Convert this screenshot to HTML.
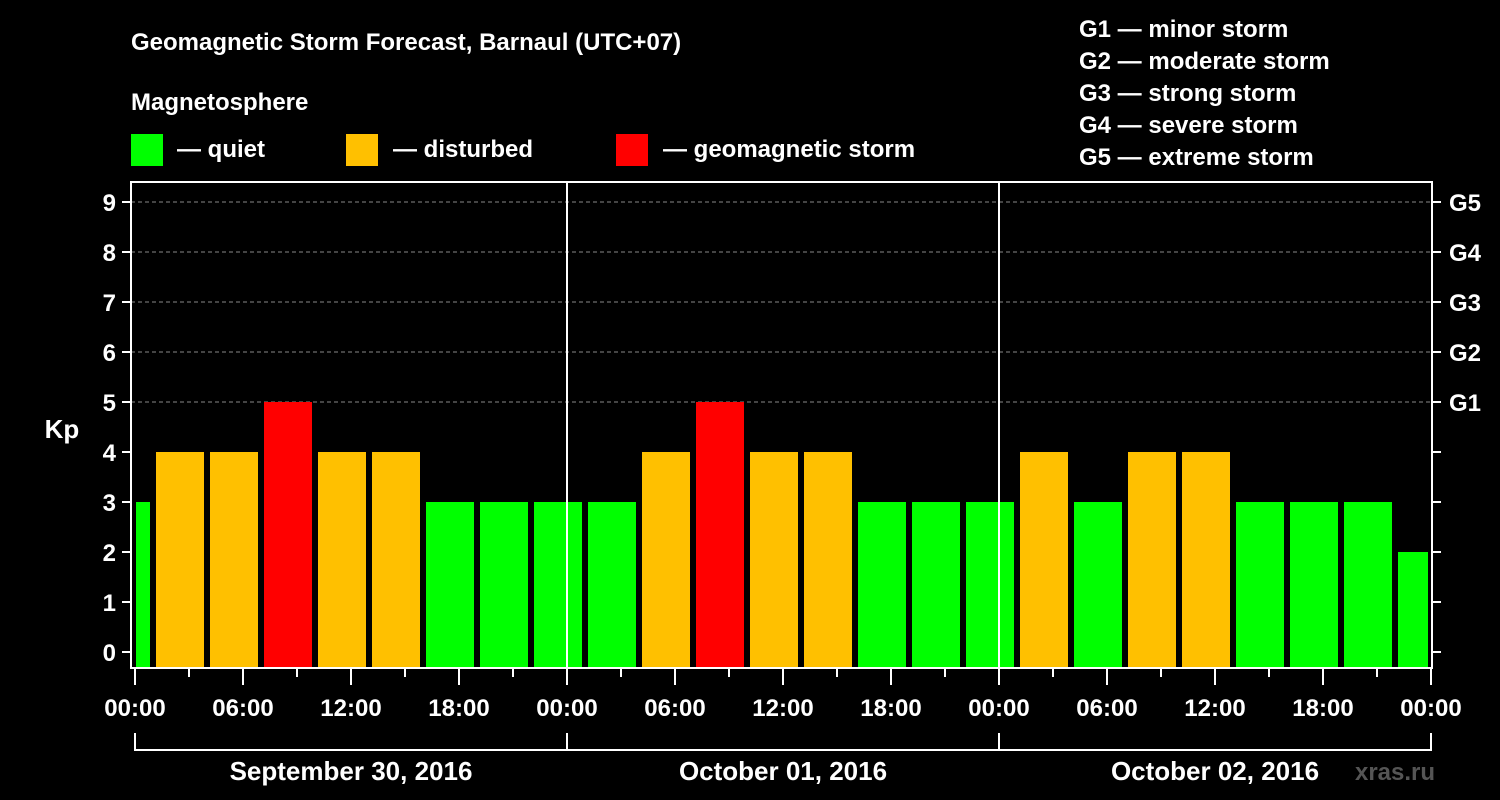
<!DOCTYPE html>
<html><head><meta charset="utf-8"><style>
body{margin:0;background:#000;}
svg{display:block;font-family:"Liberation Sans",Arial,sans-serif;font-weight:bold;}
</style></head><body>
<svg id="c" width="1500" height="800" xmlns="http://www.w3.org/2000/svg">
<rect width="1500" height="800" fill="#000"/>
<text x="131" y="50" fill="#fff" font-size="24">Geomagnetic Storm Forecast, Barnaul (UTC+07)</text>
<text x="131" y="110" fill="#fff" font-size="24">Magnetosphere</text>
<rect x="131" y="134" width="32" height="32" fill="#00ff00"/>
<text x="177" y="157" fill="#fff" font-size="24">— quiet</text>
<rect x="346" y="134" width="32" height="32" fill="#ffc000"/>
<text x="393" y="157" fill="#fff" font-size="24">— disturbed</text>
<rect x="616" y="134" width="32" height="32" fill="#ff0000"/>
<text x="663" y="157" fill="#fff" font-size="24">— geomagnetic storm</text>
<g fill="#fff" font-size="24">
<text x="1079" y="37">G1 — minor storm</text>
<text x="1079" y="69">G2 — moderate storm</text>
<text x="1079" y="101">G3 — strong storm</text>
<text x="1079" y="133">G4 — severe storm</text>
<text x="1079" y="165">G5 — extreme storm</text>
</g>
<text x="62" y="438" fill="#fff" font-size="26" text-anchor="middle">Kp</text>
<g id="grid"></g><g id="bars"></g><g id="axes"></g>
<text x="1395" y="780" fill="#555" font-size="24" text-anchor="middle">xras.ru</text>
</svg>
<script>
const kpValues=[3,4,4,5,4,4,3,3,3,3,4,5,4,4,3,3,3,4,3,4,4,3,3,3,2];
const yTicks=[0,1,2,3,4,5,6,7,8,9];
const gLabels=["G1","G2","G3","G4","G5"];
const xTickLabels=["00:00","06:00","12:00","18:00","00:00","06:00","12:00","18:00","00:00","06:00","12:00","18:00","00:00"];
const dayLabels=["September 30, 2016","October 01, 2016","October 02, 2016"];
const NS="http://www.w3.org/2000/svg";
const L=131,R=1432,T=182,B=668,X0=135,HP=18;
const y=v=>652-v*50, x=h=>X0+h*HP;
function mk(tag,attrs,parent,text){const e=document.createElementNS(NS,tag);for(const k in attrs)e.setAttribute(k,attrs[k]);if(text!==undefined)e.textContent=text;document.getElementById(parent).appendChild(e);return e;}
function col(v){return v>=5?"#ff0000":v>=4?"#ffc000":"#00ff00";}
// grid
for(let i=0;i<gLabels.length;i++){const v=5+i;
 const g=mk("line",{x1:L,x2:R,y1:y(v),y2:y(v),stroke:"#888","stroke-dasharray":"4,3","stroke-width":1},"grid");
 
 
 const t=mk("text",{x:1449,y:y(v)+9,fill:"#fff","font-size":24},"axes",gLabels[i]);
 
 }
// bars
kpValues.forEach((v,i)=>{let s=x(-2+3*i)+3,e=x(1+3*i)-3;s=Math.max(s,136);e=Math.min(e,1428);
 const r=mk("rect",{x:s,y:y(v),width:e-s,height:B-y(v),fill:col(v)},"bars");
 
 });
// axes box
const box=mk("rect",{x:L,y:T,width:R-L,height:B-T,fill:"none",stroke:"#fff","stroke-width":2},"axes");


for(let d=1;d<3;d++){const l=mk("line",{x1:x(24*d),x2:x(24*d),y1:T,y2:B,stroke:"#fff","stroke-width":2},"axes");
 
 }
yTicks.forEach(v=>{
 mk("line",{x1:122,x2:L,y1:y(v),y2:y(v),stroke:"#fff","stroke-width":2},"axes");
 mk("line",{x1:R,x2:1441,y1:y(v),y2:y(v),stroke:"#fff","stroke-width":2},"axes");
 const t=mk("text",{x:116,y:y(v)+9,fill:"#fff","font-size":24,"text-anchor":"end"},"axes",String(v));
 
 });
for(let h=0;h<=72;h+=3){mk("line",{x1:x(h),x2:x(h),y1:B,y2:h%6==0?685:677,stroke:"#fff","stroke-width":2},"axes");}
xTickLabels.forEach((s,i)=>{const t=mk("text",{x:x(6*i),y:716,fill:"#fff","font-size":24,"text-anchor":"middle"},"axes",s);
 
 });
mk("line",{x1:x(0),x2:x(72),y1:750,y2:750,stroke:"#fff","stroke-width":2},"axes");
for(let d=0;d<=3;d++)mk("line",{x1:x(24*d),x2:x(24*d),y1:733,y2:751,stroke:"#fff","stroke-width":2},"axes");
dayLabels.forEach((s,i)=>{const t=mk("text",{x:x(24*i+12),y:780,fill:"#fff","font-size":26,"text-anchor":"middle"},"axes",s);
 
 });
</script>
</body></html>
